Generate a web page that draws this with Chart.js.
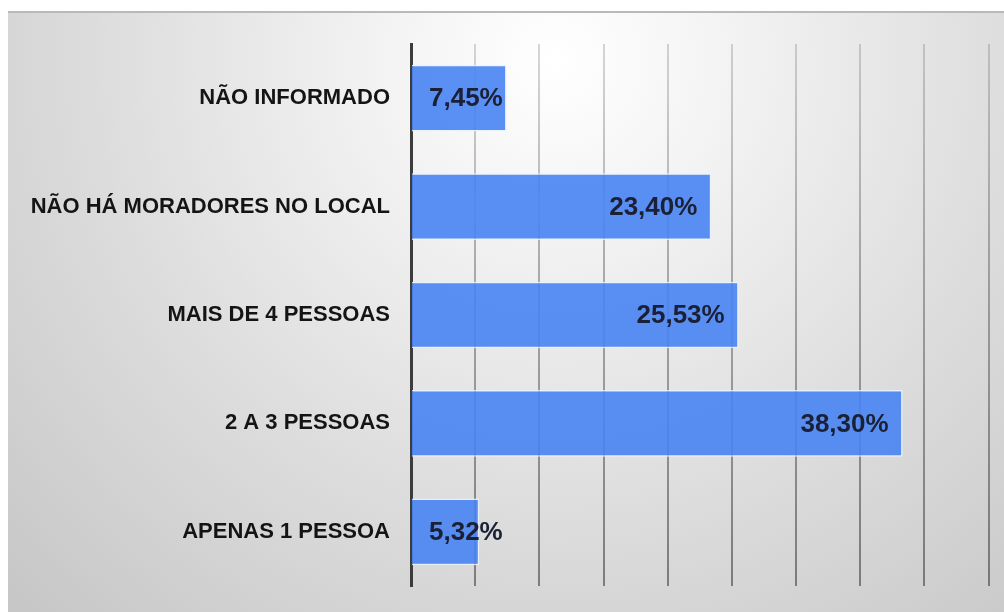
<!DOCTYPE html>
<html>
<head>
<meta charset="utf-8">
<script src="https://cdn.jsdelivr.net/npm/chart.js@4.4.1/dist/chart.umd.min.js"></script>
<style>
  html, body { margin: 0; padding: 0; background: #ffffff; width: 1004px; height: 612px; overflow: hidden; }
  #box {
    position: absolute; left: 8px; top: 12px; width: 996px; height: 600px;
    background: radial-gradient(circle farthest-corner at 55% 8%, #ffffff 0%, #f3f3f3 22%, #dcdcdc 60%, #c6c6c6 100%);
  }
  #topline { position: absolute; left: 8px; top: 11px; width: 996px; height: 2px; background: #b9b9b9; }
  canvas { position: absolute; left: 0; top: 0; }
</style>
</head>
<body>
<div id="box"><canvas id="c" width="996" height="600"></canvas></div>
<div id="topline"></div>
<script>
const categories = ['NÃO INFORMADO', 'NÃO HÁ MORADORES NO LOCAL', 'MAIS DE 4 PESSOAS', '2 A 3 PESSOAS', 'APENAS 1 PESSOA'];
const values = [7.45, 23.40, 25.53, 38.30, 5.32];
const valueLabels = ['7,45%', '23,40%', '25,53%', '38,30%', '5,32%'];
const axisMax = 46.2;
const gridStep = 5;

const FONT = '"Liberation Sans", Arial, Helvetica, sans-serif';

let gridGrad = null, gridGradKey = '';
function gridColor(ctx) {
  const chart = ctx.chart;
  const a = chart.chartArea;
  if (!a) return 'rgba(0,0,0,0.3)';
  const key = a.top + '_' + a.bottom;
  if (!gridGrad || gridGradKey !== key) {
    gridGrad = chart.ctx.createLinearGradient(0, a.top, 0, a.bottom);
    gridGrad.addColorStop(0, 'rgba(60,60,60,0.2)');
    gridGrad.addColorStop(0.4, 'rgba(60,60,60,0.38)');
    gridGrad.addColorStop(1, 'rgba(50,50,50,0.55)');
    gridGradKey = key;
  }
  return gridGrad;
}

const valueLabelPlugin = {
  id: 'valueLabels',
  afterDatasetsDraw(chart) {
    const ctx = chart.ctx;
    const meta = chart.getDatasetMeta(0);
    ctx.save();
    ctx.font = 'bold 26px ' + FONT;
    ctx.fillStyle = '#1b2036';
    ctx.textAlign = 'right';
    ctx.textBaseline = 'middle';
    meta.data.forEach((bar, i) => {
      const txt = valueLabels[i];
      const w = ctx.measureText(txt).width;
      const right = Math.max(bar.x - 14, bar.base + 17 + w);
      ctx.fillText(txt, right, bar.y + 1);
    });
    ctx.restore();
  }
};

new Chart(document.getElementById('c'), {
  type: 'bar',
  data: {
    labels: categories,
    datasets: [{
      data: values,
      backgroundColor: 'rgba(72,132,242,0.9)',
      borderColor: 'rgba(235,242,255,0.85)',
      borderWidth: 1.5,
      borderSkipped: 'start',
      categoryPercentage: 1.0,
      barPercentage: 0.615
    }]
  },
  options: {
    indexAxis: 'y',
    responsive: false,
    devicePixelRatio: 1,
    animation: false,
    layout: { padding: { top: 32, bottom: 26, left: 0, right: 0 } },
    plugins: { legend: { display: false }, tooltip: { enabled: false } },
    scales: {
      x: {
        type: 'linear',
        min: 0,
        max: axisMax,
        ticks: { display: false, stepSize: gridStep },
        afterBuildTicks(scale) {
          const t = [];
          for (let v = 0; v <= axisMax + 1e-9; v += gridStep) t.push({ value: v });
          scale.ticks = t;
        },
        grid: { color: gridColor, lineWidth: 2, drawTicks: false },
        border: { display: false },
        afterFit(scale) { scale.height = 0; scale.paddingLeft = 0; scale.paddingRight = 0; }
      },
      y: {
        ticks: {
          color: '#141414',
          font: { family: FONT, size: 22, weight: 'bold' },
          padding: 21
        },
        grid: { display: false, drawTicks: false },
        border: { display: true, color: '#3c3c3c', width: 3 },
        afterFit(scale) { scale.width = 403; scale.paddingTop = 0; scale.paddingBottom = 0; }
      }
    }
  },
  plugins: [valueLabelPlugin]
});
</script>
</body>
</html>
